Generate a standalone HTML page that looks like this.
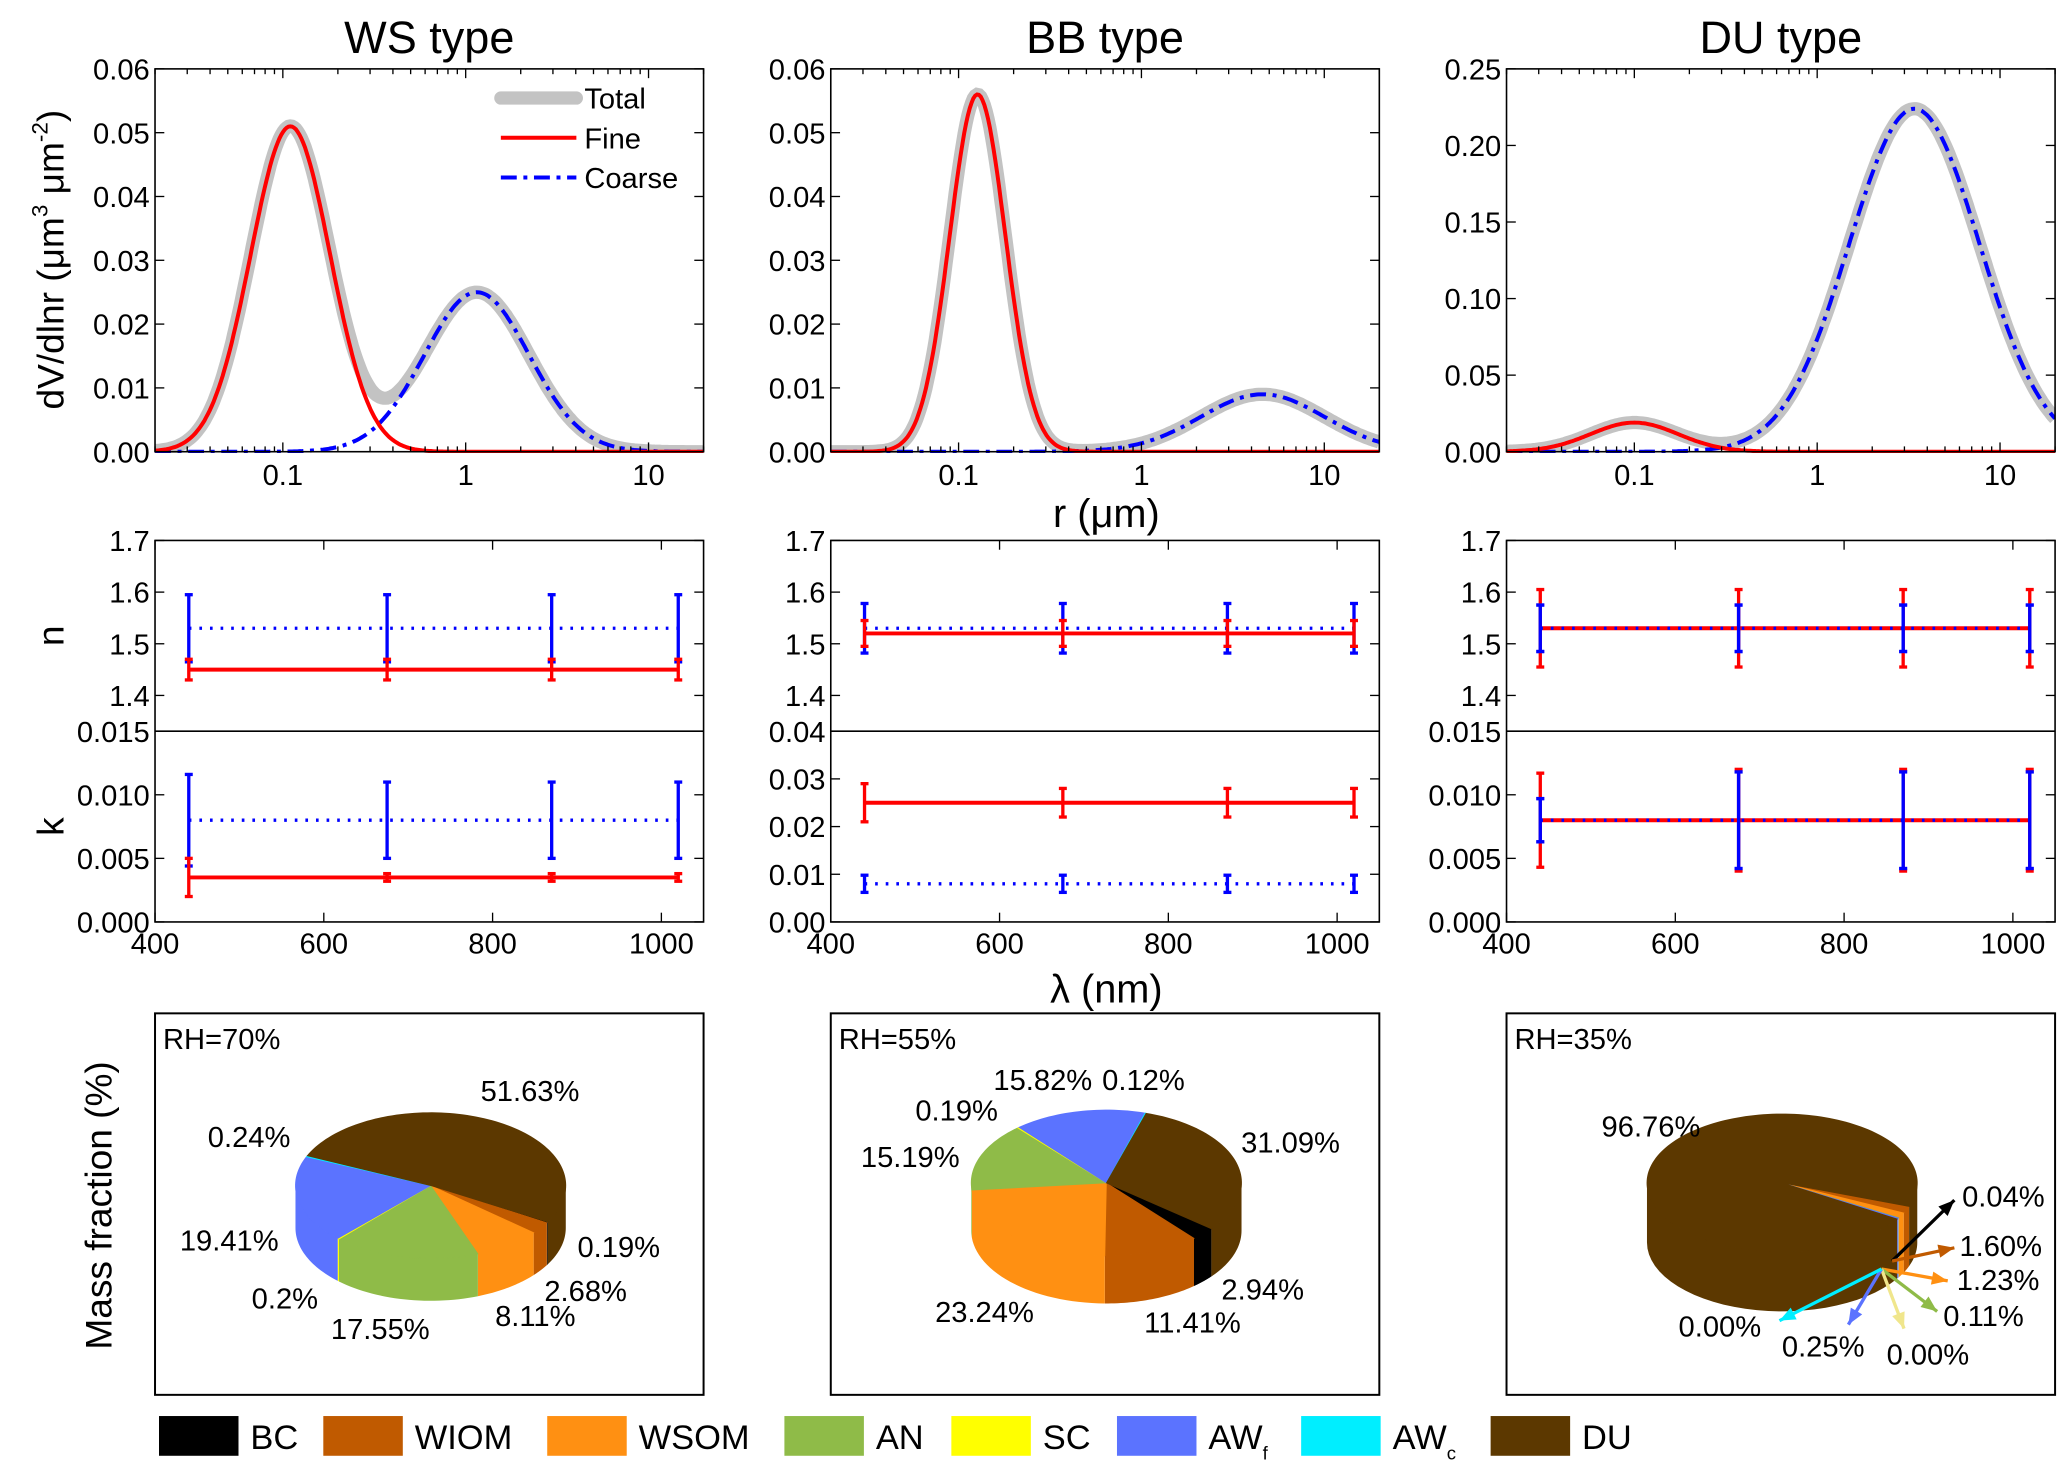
<!DOCTYPE html>
<html><head><meta charset="utf-8"><style>
html,body{margin:0;padding:0;background:#fff;}
svg{display:block;font-family:"Liberation Sans",Arial,sans-serif;}
</style></head><body>
<svg id="fig" width="2067" height="1473" viewBox="0 0 1560 1112" preserveAspectRatio="none" xmlns="http://www.w3.org/2000/svg">
<rect width="1560" height="1112" fill="#fff"/>
<g id="g"></g>
</svg>
<script>
// ---------- data ----------
const panelNames = ["WS type","BB type","DU type"];
const sdMaxY = [0.06, 0.06, 0.25];
const sdTicks = [[0,0.01,0.02,0.03,0.04,0.05,0.06],[0,0.01,0.02,0.03,0.04,0.05,0.06],[0,0.05,0.10,0.15,0.20,0.25]];
const sdTickLabels = [["0.00","0.01","0.02","0.03","0.04","0.05","0.06"],["0.00","0.01","0.02","0.03","0.04","0.05","0.06"],["0.00","0.05","0.10","0.15","0.20","0.25"]];
// lognormal modes: [volume peak, median radius, sigma(ln)]
const fineMode = [[0.051,0.11,0.50],[0.056,0.127,0.35],[0.019,0.10,0.55]];
const coarseMode = [[0.025,1.15,0.66],[0.009,4.6,0.78],[0.224,3.4,0.82]];
const wavelengths = [440,675,870,1020];
const nFine = [[1.45,1.45,1.45,1.45],[1.52,1.52,1.52,1.52],[1.53,1.53,1.53,1.53]];
const nFineErr = [[0.02,0.02,0.02,0.02],[0.025,0.025,0.025,0.025],[0.075,0.075,0.075,0.075]];
const nCoarse = [[1.53,1.53,1.53,1.53],[1.53,1.53,1.53,1.53],[1.53,1.53,1.53,1.53]];
const nCoarseErr = [[0.065,0.065,0.065,0.065],[0.048,0.048,0.048,0.048],[0.045,0.045,0.045,0.045]];
const kFine = [[0.0035,0.0035,0.0035,0.0035],[0.025,0.025,0.025,0.025],[0.008,0.008,0.008,0.008]];
const kFineErr = [[0.0015,0.0003,0.0003,0.0003],[0.004,0.003,0.003,0.003],[0.0037,0.004,0.004,0.004]];
const kCoarse = [[0.008,0.008,0.008,0.008],[0.008,0.008,0.008,0.008],[0.008,0.008,0.008,0.008]];
const kCoarseErr = [[0.0036,0.003,0.003,0.003],[0.0018,0.0018,0.0018,0.0018],[0.0017,0.0038,0.0038,0.0038]];
const kMax = [0.015,0.04,0.015];
const kTicks = [[0,0.005,0.010,0.015],[0,0.01,0.02,0.03,0.04],[0,0.005,0.010,0.015]];
const kTickLabels = [["0.000","0.005","0.010","0.015"],["0.00","0.01","0.02","0.03","0.04"],["0.000","0.005","0.010","0.015"]];
const components = ["BC","WIOM","WSOM","AN","SC","AWf","AWc","DU"];
const compColors = ["#000000","#c05a00","#ff9012","#8fbb48","#ffff00","#5b73ff","#00eeff","#5c3800"];
const massWS = [0.19,2.68,8.11,17.55,0.2,19.41,0.24,51.63];
const massBB = [2.94,11.41,23.24,15.19,0.19,15.82,0.12,31.09];
const massDU = [0.04,1.60,1.23,0.11,0.00,0.25,0.00,96.76];
const rhLabels = ["RH=70%","RH=55%","RH=35%"];

// ---------- helpers ----------
const NS="http://www.w3.org/2000/svg";
const G=document.getElementById('g');
function el(tag,attrs,parent){const e=document.createElementNS(NS,tag);for(const k in attrs)e.setAttribute(k,attrs[k]);(parent||G).appendChild(e);return e;}
function txt(x,y,s,size,anchor,parent){const t=el('text',{x:x,y:y,'font-size':size,'text-anchor':anchor||'middle',fill:'#000'},parent);t.textContent=s;return t;}
const PX=[117,627,1137], PW=414;
function lognorm(m,r){return m[0]*Math.exp(-Math.pow(Math.log(r/m[1]),2)/(2*m[2]*m[2]));}

for(let p=0;p<3;p++){
  const x0=PX[p],x1=x0+PW;
  const y0=52,y1=341;
  const sx=r=>x0+(Math.log10(r)-Math.log10(0.02))/(Math.log10(20)-Math.log10(0.02))*PW;
  const sy=v=>y1-v/sdMaxY[p]*(y1-y0);
  const title=txt(x0+PW/2,40,panelNames[p],34);
  
  
  const sdG=el('g',{});
  
  
  let dT='',dF='',dC='';
  for(let i=0;i<=300;i++){
    const r=Math.pow(10,Math.log10(0.02)+i/300*3);
    const f=lognorm(fineMode[p],r),c=lognorm(coarseMode[p],r);
    const X=sx(r).toFixed(1);
    dT+=(i?'L':'M')+X+' '+sy(f+c).toFixed(1);
    dF+=(i?'L':'M')+X+' '+sy(f).toFixed(1);
    dC+=(i?'L':'M')+X+' '+sy(c).toFixed(1);
  }
  const cp=el('clipPath',{id:'cp'+p},sdG);el('rect',{x:x0,y:y0-10,width:PW,height:y1-y0+11},cp);
  const lt=el('path',{d:dT,fill:'none',stroke:'#c3c3c3','stroke-width':10,'clip-path':'url(#cp'+p+')'},sdG);
  
  const lc=el('path',{d:dC,fill:'none',stroke:'#0000ff','stroke-width':3,'stroke-dasharray':'12 5 3 5','clip-path':'url(#cp'+p+')'},sdG);
  
  const lf=el('path',{d:dF,fill:'none',stroke:'#ff0000','stroke-width':3,'clip-path':'url(#cp'+p+')'},sdG);
  
  el('rect',{x:x0,y:y0,width:PW,height:y1-y0,fill:'none',stroke:'#000','stroke-width':1.2},sdG);
  sdTicks[p].forEach((v,i)=>{const Y=sy(v);el('line',{x1:x0,x2:x0+7,y1:Y,y2:Y,stroke:'#000'},sdG);el('line',{x1:x1,x2:x1-7,y1:Y,y2:Y,stroke:'#000'},sdG);
    txt(x0-4,Y+8,sdTickLabels[p][i],22,'end',sdG);});
  for(let d=-2;d<=1;d++)for(let m=1;m<10;m++){const r=m*Math.pow(10,d);if(r<0.02||r>20)continue;const X=sx(r);const L=m==1?7:4;
    el('line',{x1:X,x2:X,y1:y1,y2:y1-L,stroke:'#000'},sdG);el('line',{x1:X,x2:X,y1:y0,y2:y0+L,stroke:'#000'},sdG);}
  [[0.1,"0.1"],[1,"1"],[10,"10"]].forEach(a=>txt(sx(a[0]),366,a[1],22,'middle',sdG));

  const ny0=408,ny1=552,ky1=696;
  const lx=w=>x0+(w-400)/650*PW;
  const nyS=v=>ny0+(1.7-v)*390;
  const kyS=v=>ky1-v/kMax[p]*(ky1-ny1);
  const nG=el('g',{});
  const kG=el('g',{});
  function series(g,vals,errs,ys,color,dotted,name){
    const s=el('g',{},g);
    let d='';vals.forEach((v,i)=>{d+=(i?'L':'M')+lx(wavelengths[i])+' '+ys(v);});
    el('path',{d:d,fill:'none',stroke:color,'stroke-width':dotted?2.5:3,'stroke-dasharray':dotted?'2 6':'none'},s);
    vals.forEach((v,i)=>{const X=lx(wavelengths[i]);const a=ys(v+errs[i]),b=ys(v-errs[i]);
      el('line',{x1:X,x2:X,y1:a,y2:b,stroke:color,'stroke-width':2.5},s);
      el('line',{x1:X-3,x2:X+3,y1:a,y2:a,stroke:color,'stroke-width':2.5},s);
      el('line',{x1:X-3,x2:X+3,y1:b,y2:b,stroke:color,'stroke-width':2.5},s);});
  }
  series(nG,nCoarse[p],nCoarseErr[p],nyS,'#0000ff',true,'n-coarse-series');
  series(nG,nFine[p],nFineErr[p],nyS,'#ff0000',false,'n-fine-series');
  if(p==2){series(nG,nCoarse[p],nCoarseErr[p],nyS,'#0000ff',true,'n-coarse-series-top');}
  series(kG,kCoarse[p],kCoarseErr[p],kyS,'#0000ff',true,'k-coarse-series');
  series(kG,kFine[p],kFineErr[p],kyS,'#ff0000',false,'k-fine-series');
  if(p==2){series(kG,kCoarse[p],kCoarseErr[p],kyS,'#0000ff',true,'k-coarse-series-top');}
  el('rect',{x:x0,y:ny0,width:PW,height:ky1-ny0,fill:'none',stroke:'#000','stroke-width':1.2});
  el('line',{x1:x0,x2:x1,y1:ny1,y2:ny1,stroke:'#000','stroke-width':1.2});
  [1.4,1.5,1.6,1.7].forEach(v=>{const Y=nyS(v);el('line',{x1:x0,x2:x0+7,y1:Y,y2:Y,stroke:'#000'},nG);el('line',{x1:x1,x2:x1-7,y1:Y,y2:Y,stroke:'#000'},nG);txt(x0-4,Y+8,v.toFixed(1),22,'end',nG);});
  kTicks[p].forEach((v,i)=>{const Y=kyS(v);el('line',{x1:x0,x2:x0+7,y1:Y,y2:Y,stroke:'#000'},kG);el('line',{x1:x1,x2:x1-7,y1:Y,y2:Y,stroke:'#000'},kG);txt(x0-4,Y+8,kTickLabels[p][i],22,'end',kG);});
  [400,600,800,1000].forEach(w=>{const X=lx(w);el('line',{x1:X,x2:X,y1:ky1,y2:ky1-7,stroke:'#000'},kG);el('line',{x1:X,x2:X,y1:ny0,y2:ny0+7,stroke:'#000'},nG);txt(X,720,String(w),22,'middle',kG);});

  const pb=el('rect',{x:x0,y:765,width:PW,height:288,fill:'none',stroke:'#000','stroke-width':1.5});
  
  txt(x0+6,792,rhLabels[p],22,'start');
}

function pie(vals,cx,cy,rx,ry,depth,startDeg,name){
  const g=el('g',{});
  const tot=vals.reduce((a,b)=>a+b,0);
  const P=(t,dy)=>[cx+rx*Math.cos(t),cy+dy+ry*Math.sin(t)];
  let a=startDeg*Math.PI/180;const segs=[];
  vals.forEach((v,i)=>{const b=a+v/tot*2*Math.PI;segs.push([a,b,i]);a=b;});
  segs.forEach(([a,b,i])=>{
    for(let k=-1;k<=2;k++){const lo=Math.max(a,k*2*Math.PI),hi=Math.min(b,k*2*Math.PI+Math.PI);if(hi<=lo)continue;
      let d='';const N=30;
      for(let j=0;j<=N;j++){const t=lo+(hi-lo)*j/N;const q=P(t,0);d+=(j?'L':'M')+q[0]+' '+q[1];}
      for(let j=N;j>=0;j--){const t=lo+(hi-lo)*j/N;const q=P(t,depth);d+='L'+q[0]+' '+q[1];}
      const s=el('path',{d:d+'Z',fill:compColors[i]},g);}
  });
  segs.forEach(([a,b,i])=>{if(b-a<1e-6)return;let d='M'+cx+' '+cy;const N=Math.max(2,Math.ceil((b-a)*30));
    for(let j=0;j<=N;j++){const q=P(a+(b-a)*j/N,0);d+='L'+q[0]+' '+q[1];}
    const s=el('path',{d:d+'Z',fill:compColors[i],stroke:compColors[i],'stroke-width':0.6},g);});
  return g;
}
pie(massWS,325,895,102,55,32,30,'pie-ws');
pie(massBB,835,893,102,55,36,39,'pie-bb');
pie(massDU,1345,893,102,52,45,20,'pie-du');

const pieLabels=[["51.63%",400,831],["0.24%",188,866],["19.41%",173,944],["0.19%",467,949],["2.68%",442,982],["0.2%",215,988],["8.11%",404,1001],["17.55%",287,1011],
["15.82%",787,823],["0.12%",863,823],["0.19%",722,846],["31.09%",974,870],["15.19%",687,881],["2.94%",953,981],["23.24%",743,998],["11.41%",900,1006],
["96.76%",1246,858],["0.04%",1512,911],["1.60%",1510,948],["1.23%",1508,974],["0.11%",1497,1001],["0.00%",1298,1009],["0.25%",1376,1024],["0.00%",1455,1030]];
pieLabels.forEach(l=>{const t=txt(l[1],l[2],l[0],22);});
const arrowEnds=[[1475,906,0],[1475,942,1],[1470,967,2],[1462,990,3],[1437,1003,4],[1395,1000,5],[1343,997,6]];
arrowEnds.forEach(([x,y,i])=>{const ox=(i<2?1428:1420),oy=(i<2?952:958);
  const a=el('g',{});
  const c=i==4?'#f0e68c':compColors[i];
  el('line',{x1:ox,y1:oy,x2:x,y2:y,stroke:c,'stroke-width':2.5},a);
  const ang=Math.atan2(y-oy,x-ox),L=12,W=5;
  const p1=[x-L*Math.cos(ang)+W*Math.sin(ang),y-L*Math.sin(ang)-W*Math.cos(ang)],p2=[x-L*Math.cos(ang)-W*Math.sin(ang),y-L*Math.sin(ang)+W*Math.cos(ang)];
  el('polygon',{points:`${x},${y} ${p1} ${p2}`,fill:c},a);});

const yt=el('text',{x:0,y:0,'font-size':28,'text-anchor':'middle',transform:'translate(48,196) rotate(-90)'});

yt.innerHTML='dV/dlnr (μm<tspan dy="-12" font-size="17">3</tspan><tspan dy="12"> μm</tspan><tspan dy="-12" font-size="17">-2</tspan><tspan dy="12">)</tspan>';
const rt=txt(835,398,'r (μm)',30);
const nt=el('text',{'font-size':28,'text-anchor':'middle',transform:'translate(48,480) rotate(-90)'});nt.textContent='n';

const kt=el('text',{'font-size':28,'text-anchor':'middle',transform:'translate(48,624) rotate(-90)'});kt.textContent='k';

const lt2=txt(835,757,'λ (nm)',30);
const mt=el('text',{'font-size':28,'text-anchor':'middle',transform:'translate(84,910) rotate(-90)'});mt.textContent='Mass fraction (%)';


const lg=el('g',{});
el('line',{x1:378,x2:435,y1:74,y2:74,stroke:'#c3c3c3','stroke-width':10,'stroke-linecap':'round'},lg);txt(441,82,'Total',22,'start',lg);
el('line',{x1:378,x2:435,y1:104,y2:104,stroke:'#ff0000','stroke-width':3},lg);txt(441,112,'Fine',22,'start',lg);
el('line',{x1:378,x2:435,y1:134,y2:134,stroke:'#0000ff','stroke-width':3,'stroke-dasharray':'12 5 3 5'},lg);txt(441,142,'Coarse',22,'start',lg);

const legX=[120,244,413,592,718,843,982,1125];
const legLabels=["BC","WIOM","WSOM","AN","SC","AW","AW","DU"];
const legSubs=["","","","","","f","c",""];
components.forEach((c,i)=>{const g=el('g',{});
  el('rect',{x:legX[i],y:1069,width:60,height:30,fill:compColors[i]},g);
  const t=txt(legX[i]+69,1094,legLabels[i],26,'start',g);
  if(legSubs[i]){const s=el('tspan',{dy:8,'font-size':14},t);s.textContent=legSubs[i];}});
</script>
</body></html>
